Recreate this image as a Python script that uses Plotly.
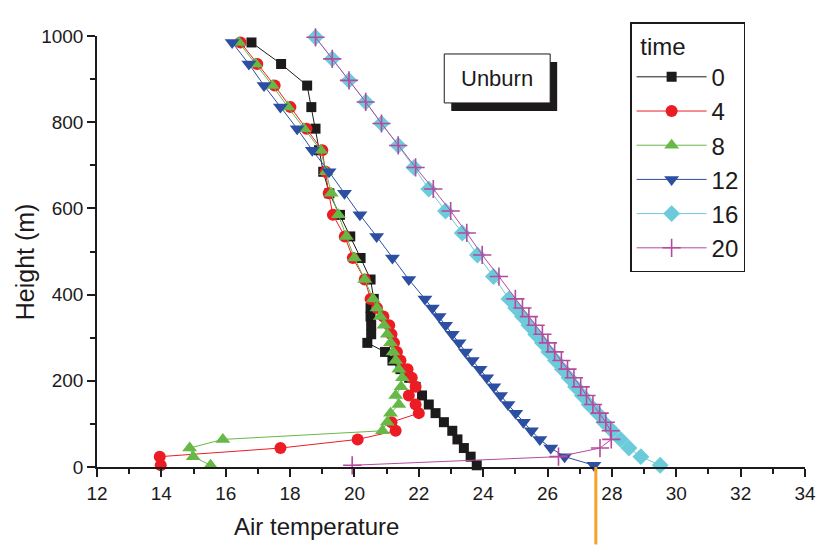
import plotly.graph_objects as go

# ---------------- data ----------------
H_A_UP = [985, 935, 885, 835, 785, 735, 685, 635, 585, 535, 485, 435]
H_B_UP = [997, 947, 897, 847, 797, 746, 695, 645, 594, 543, 492, 442]
H_LO = [390, 369, 349, 329, 308, 288, 267, 247, 227, 207, 186, 166, 145, 125, 104, 84, 64, 44, 24, 4]

heights_a = H_A_UP + H_LO
heights_b = H_B_UP + H_LO

t0 = [16.8, 17.72, 18.53, 18.66, 18.79, 18.9, 19.03, 19.22, 19.55, 19.87, 20.19, 20.5,
      20.6, 20.5, 20.5, 20.52, 20.52, 20.4, 20.95, 21.18, 21.43, 21.7, 21.9, 22.1, 22.31,
      22.52, 22.78, 23.04, 23.2, 23.4, 23.61, 23.8]
t4 = [16.46, 16.98, 17.52, 18.01, 18.51, 19.0, 19.1, 19.2, 19.33, 19.7, 19.95, 20.32,
      20.5, 20.7, 20.9, 21.08, 21.15, 21.23, 21.32, 21.43, 21.65, 21.78, 21.9, 21.69, 21.9,
      22.0, 21.15, 21.28, 20.1, 17.7, 13.95, 13.98]
t8 = [16.41, 16.93, 17.45, 17.93, 18.43, 18.95, 19.12, 19.28, 19.5, 19.75, 20.0, 20.32,
      20.58, 20.7, 20.8, 20.92, 21.02, 21.12, 21.2, 21.28, 21.38, 21.49, 21.45, 21.28, 21.38,
      21.12, 21.02, 20.87, 15.91, 14.88, 14.99, 15.53]
t12 = [16.2, 16.72, 17.19, 17.7, 18.22, 18.69, 19.21, 19.69, 20.17, 20.69, 21.18, 21.69,
       22.19, 22.42, 22.63, 22.83, 23.04, 23.25, 23.45, 23.66, 23.9, 24.11, 24.33, 24.54,
       24.77, 25.01, 25.25, 25.5, 25.76, 26.1, 26.53, 27.44]
t16 = [18.79, 19.31, 19.83, 20.35, 20.84, 21.36, 21.85, 22.31, 22.83, 23.35, 23.82, 24.32,
       24.8, 25.01, 25.22, 25.42, 25.63, 25.84, 26.04, 26.25, 26.46, 26.67, 26.87, 27.08,
       27.29, 27.55, 27.75, 28.01, 28.27, 28.53, 28.9, 29.5]
t20 = [18.79, 19.31, 19.83, 20.35, 20.84, 21.36, 21.9, 22.45, 22.99, 23.49, 23.97, 24.49,
       25.0, 25.22, 25.42, 25.63, 25.84, 26.01, 26.22, 26.43, 26.62, 26.82, 27.03, 27.21,
       27.41, 27.62, 27.81, 27.96, 27.98, 27.63, 26.34, 19.93]

series_names = ["0", "4", "8", "12", "16", "20"]
series_temps = [t0, t4, t8, t12, t16, t20]
series_heights = [heights_a, heights_a, heights_a, heights_a, heights_b, heights_b]

marker_x = 27.5  # orange marker line position

x_range = [12, 34]
y_range = [0, 1000]

# ---------------- style ----------------
colors = ["#1c1a1b", "#ec1c24", "#66b946", "#2d4fa2", "#6ccbdb", "#b54a9e"]
symbols = ["square", "circle", "triangle-up", "triangle-down", "diamond", "cross-thin"]
sizes = [10, 12, 13, 13, 13, 13]
FONT = "Liberation Sans, Arial, sans-serif"

fig = go.Figure()
for name, temps, hts, c, s, sz in zip(series_names, series_temps, series_heights, colors, symbols, sizes):
    mk = dict(symbol=s, size=sz, color=c, line=dict(width=0))
    if s == "cross-thin":
        mk["line"] = dict(width=1.6, color=c)
    fig.add_trace(go.Scatter(
        x=temps, y=hts, name=name, mode="lines+markers",
        line=dict(color=c, width=1),
        marker=mk, cliponaxis=False, legendgroup=name,
    ))

# page geometry (body margin is removed by the post script, figure fills the window)
W, H = 819, 545
ML, MR, MT, MB = 96.5, 14, 36, 77.5
PW, PH = W - ML - MR, H - MT - MB

def px(xp):  # window pixel -> paper x
    return (xp - ML) / PW

def py(yp):  # window pixel -> paper y
    return (H - MB - yp) / PH

shapes = []
# orange vertical line below the axis
xo = (marker_x - x_range[0]) / (x_range[1] - x_range[0])
shapes.append(dict(type="line", xref="paper", yref="paper", x0=xo, x1=xo, y0=0, y1=py(545),
                   line=dict(color="#f6a124", width=3)))
# "Unburn" box with shadow
shapes.append(dict(type="rect", xref="paper", yref="paper", x0=px(451), x1=px(557), y0=py(111), y1=py(62),
                   fillcolor="#1c1a1b", line=dict(width=0)))
shapes.append(dict(type="rect", xref="paper", yref="paper", x0=px(444), x1=px(550), y0=py(103), y1=py(54),
                   fillcolor="white", line=dict(color="#1c1a1b", width=1)))

annotations = [
    dict(text="Unburn", xref="paper", yref="paper", x=px(497), y=py(79), showarrow=False,
         font=dict(family=FONT, size=22, color="#1c1a1b"), xanchor="center", yanchor="middle"),
    dict(text="Air temperature", xref="paper", yref="paper", x=px(316), y=py(527), showarrow=False,
         font=dict(family=FONT, size=24, color="#1c1a1b"), xanchor="center", yanchor="middle"),
    dict(text="Height (m)", xref="paper", yref="paper", x=px(24), y=py(262), showarrow=False,
         textangle=-90, font=dict(family=FONT, size=25, color="#1c1a1b"),
         xanchor="center", yanchor="middle"),
]

axis_common = dict(showline=True, linecolor="#1c1a1b", linewidth=1.5, ticks="outside",
                   ticklen=8, tickwidth=1.5, tickcolor="#1c1a1b", showgrid=False, zeroline=False,
                   tickfont=dict(family=FONT, size=19, color="#1c1a1b"), mirror=False,
                   automargin=False)

fig.update_layout(
    template="none",
    width=W, height=H,
    margin=dict(l=ML, r=MR, t=MT, b=MB, pad=0, autoexpand=False),
    paper_bgcolor="white", plot_bgcolor="white",
    xaxis=dict(range=x_range, dtick=2, tick0=12,
               minor=dict(dtick=1, ticklen=5, tickwidth=1.5, tickcolor="#1c1a1b", ticks="outside"),
               **axis_common),
    yaxis=dict(range=y_range, dtick=200, tick0=0,
               minor=dict(dtick=100, ticklen=5, tickwidth=1.5, tickcolor="#1c1a1b", ticks="outside"),
               **axis_common),
    legend=dict(x=px(630), y=py(22), xanchor="left", yanchor="top",
                bgcolor="white", bordercolor="#1c1a1b", borderwidth=1.5,
                font=dict(family=FONT, size=24, color="#1c1a1b"),
                title=dict(text="\u00a0time", font=dict(family=FONT, size=24, color="#1c1a1b")),
                tracegroupgap=0, itemwidth=70),
    shapes=shapes,
    annotations=annotations,
    showlegend=True,
)

fig.write_html("out.html", config={"displayModeBar": False},
               post_script="document.body.style.margin='0';document.body.style.overflow='hidden';")
